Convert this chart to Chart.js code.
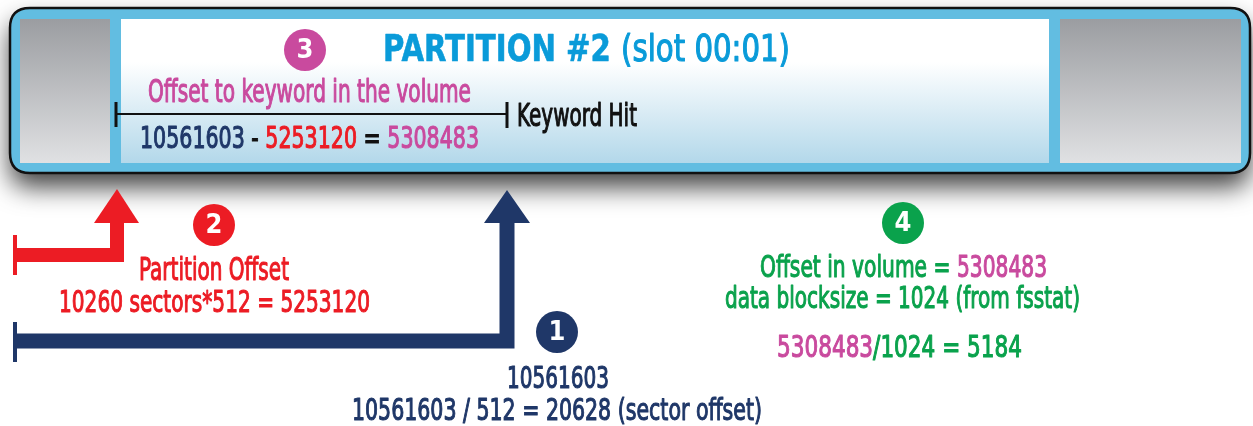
<!DOCTYPE html>
<html>
<head>
<meta charset="utf-8">
<script src="https://cdn.jsdelivr.net/npm/chart.js@4.4.0/dist/chart.umd.min.js"></script>
<style>
    html, body { margin: 0; padding: 0; background: #fff; }
    #wrap { width: 1253px; height: 426px; }
</style>
</head>
<body>
<div id="wrap"><canvas id="myChart" width="1253" height="426"></canvas></div>
<script>
// values
const stepNumbers = ["1", "2", "3", "4"];
const hitOffsets = [10561603];        // keyword hit, bytes from start of disk
const partitionSectors = [10260];     // partition #2 start sector
const sectorSizes = [512];
const partitionOffsets = [5253120];
const volumeOffsets = [5308483];
const sectorOffsets = [20628];
const blockSizes = [1024];
const blockNumbers = [5184];

const navy = "#1f3768";
const red = "#ec1c24";
const magenta = "#c94a9e";
const green = "#0aa24c";
const titleBlue = "#0a9bd9";
const boxBlue = "#62bde1";
const FONT = "'Liberation Sans Narrow', 'DejaVu Sans Condensed', 'Liberation Sans', sans-serif";

function path(points, color, width, extra) {
    return Object.assign({
        data: points.map(p => ({ x: p[0], y: p[1] })),
        borderColor: color,
        borderWidth: width,
        borderJoinStyle: "miter",
        borderCapStyle: "butt",
        pointRadius: 0,
        fill: false,
        tension: 0,
    }, extra || {});
}

function head(points, color) {
    return path(points.concat([points[0]]), color, 0, { fill: "shape", backgroundColor: color });
}

// text drawn in parts of several colours, squeezed to fit between left and right
function fitText(ctx, parts, left, right, baseline, size) {
    let total = 0;
    parts.forEach(p => {
        ctx.font = (p[2] ? "bold " : "") + size + "px " + FONT;
        total += ctx.measureText(p[0]).width;
    });
    const s = (right - left) / total;
    ctx.save();
    ctx.translate(left, baseline);
    ctx.scale(s, 1);
    ctx.textAlign = "left";
    ctx.textBaseline = "alphabetic";
    ctx.lineJoin = "round";
    let x = 0;
    parts.forEach(p => {
        ctx.font = (p[2] ? "bold " : "") + size + "px " + FONT;
        ctx.fillStyle = p[1];
        ctx.strokeStyle = p[1];
        ctx.lineWidth = p[2] ? 0.6 : 1.1;
        ctx.fillText(p[0], x, 0);
        ctx.strokeText(p[0], x, 0);
        x += ctx.measureText(p[0]).width;
    });
    ctx.restore();
}

function roundRect(ctx, x, y, w, h, r) {
    ctx.beginPath();
    ctx.moveTo(x + r, y);
    ctx.lineTo(x + w - r, y);
    ctx.quadraticCurveTo(x + w, y, x + w, y + r);
    ctx.lineTo(x + w, y + h - r);
    ctx.quadraticCurveTo(x + w, y + h, x + w - r, y + h);
    ctx.lineTo(x + r, y + h);
    ctx.quadraticCurveTo(x, y + h, x, y + h - r);
    ctx.lineTo(x, y + r);
    ctx.quadraticCurveTo(x, y, x + r, y);
    ctx.closePath();
}

const diagram = {
    id: "diagram",
    beforeDatasetsDraw(chart) {
        const ctx = chart.ctx;
        const X = v => chart.scales.x.getPixelForValue(v);
        const Y = v => chart.scales.y.getPixelForValue(v);

        // partition bar with its shadow
        ctx.save();
        ctx.shadowColor = "rgba(0, 0, 0, 0.75)";
        ctx.shadowBlur = 26;
        ctx.shadowOffsetY = 14;
        roundRect(ctx, X(10), Y(8), X(1250) - X(10), Y(173) - Y(8), 20);
        ctx.fillStyle = boxBlue;
        ctx.fill();
        ctx.restore();
        roundRect(ctx, X(10), Y(8), X(1250) - X(10), Y(173) - Y(8), 20);
        ctx.lineWidth = 2.5;
        ctx.strokeStyle = "#111";
        ctx.stroke();

        const grey = (x0, x1) => {
            const g = ctx.createLinearGradient(0, Y(19), 0, Y(163));
            g.addColorStop(0, "#9b9da1");
            g.addColorStop(1, "#e0e1e3");
            ctx.fillStyle = g;
            ctx.fillRect(X(x0), Y(19), X(x1) - X(x0), Y(163) - Y(19));
        };
        grey(20, 110);
        grey(1060, 1241);

        const g = ctx.createLinearGradient(0, Y(19), 0, Y(163));
        g.addColorStop(0, "#ffffff");
        g.addColorStop(0.3, "#ffffff");
        g.addColorStop(1, "#b3d8ea");
        ctx.fillStyle = g;
        ctx.fillRect(X(121), Y(19), X(1049) - X(121), Y(163) - Y(19));
    },
    afterDatasetsDraw(chart) {
        const ctx = chart.ctx;
        const X = v => chart.scales.x.getPixelForValue(v);
        const Y = v => chart.scales.y.getPixelForValue(v);

        // step numbers in the circles
        const meta = chart.getDatasetMeta(chart.data.datasets.length - 1);
        ctx.save();
        ctx.font = "bold 27px " + FONT;
        ctx.fillStyle = "#fff";
        ctx.textAlign = "center";
        ctx.textBaseline = "middle";
        meta.data.forEach((pt, i) => ctx.fillText(stepNumbers[i], pt.x, pt.y + 1));
        ctx.restore();

        fitText(ctx, [["PARTITION #2 ", titleBlue, true], ["(slot 00:01)", titleBlue, false]], X(383), X(790), Y(61), 38);
        fitText(ctx, [["Offset to keyword in the volume", magenta]], X(148), X(471), Y(102), 32);
        fitText(ctx, [["Keyword Hit", "#111"]], X(517), X(637), Y(126), 32);
        fitText(ctx, [
            [String(hitOffsets[0]), navy],
            [" - ", "#111"],
            [String(partitionOffsets[0]), red],
            [" = ", "#111"],
            [String(volumeOffsets[0]), magenta],
        ], X(140), X(479), Y(148), 31);

        fitText(ctx, [["Partition Offset", red]], X(139), X(289), Y(280), 32);
        fitText(ctx, [[partitionSectors[0] + " sectors*" + sectorSizes[0] + " = " + partitionOffsets[0], red]], X(59), X(370), Y(312), 31);

        fitText(ctx, [[String(hitOffsets[0]), navy]], X(507), X(609), Y(388), 31);
        fitText(ctx, [[hitOffsets[0] + " / " + sectorSizes[0] + " = " + sectorOffsets[0] + " (sector offset)", navy]], X(352), X(762), Y(420), 31);

        fitText(ctx, [["Offset in volume = ", green], [String(volumeOffsets[0]), magenta]], X(760), X(1047), Y(277), 31);
        fitText(ctx, [["data blocksize = " + blockSizes[0] + " (from fsstat)", green]], X(725), X(1080), Y(308), 31);
        fitText(ctx, [[String(volumeOffsets[0]), magenta], ["/" + blockSizes[0] + " = " + blockNumbers[0], green]], X(777), X(1022), Y(357), 31);
    }
};

const ctx = document.getElementById("myChart");

let myChart = new Chart(ctx, {
    type: "line",
    data: {
        datasets: [
            // bracket: offset to keyword in the volume
            path([[116, 114], [507, 114]], "#111", 2),
            path([[116, 102], [116, 127]], "#111", 3),
            path([[507, 102], [507, 128]], "#111", 3),
            // partition offset arrow
            path([[15, 235], [15, 275]], red, 4),
            path([[15, 255], [117, 255], [117, 220]], red, 14),
            head([[94, 223], [117, 189], [139, 223]], red),
            // keyword hit arrow
            path([[15, 322], [15, 362]], navy, 4),
            path([[15, 341], [507, 341], [507, 220]], navy, 15),
            head([[484, 223], [507, 190], [530, 223]], navy),
            // numbered steps
            {
                data: [{ x: 557, y: 332 }, { x: 214, y: 225 }, { x: 305, y: 50 }, { x: 903, y: 223 }],
                showLine: false,
                pointRadius: 21,
                pointHoverRadius: 21,
                pointBorderWidth: 0,
                pointBackgroundColor: [navy, red, magenta, green],
                pointBorderColor: [navy, red, magenta, green],
            },
        ],
    },
    options: {
        responsive: false,
        animation: false,
        events: [],
        layout: { padding: 0, autoPadding: false },
        plugins: {
            legend: { display: false },
            tooltip: { enabled: false },
        },
        scales: {
            x: { type: "linear", min: 0, max: 1253, display: false },
            y: { type: "linear", min: 0, max: 426, reverse: true, display: false },
        },
    },
    plugins: [diagram],
});
</script>
</body>
</html>
